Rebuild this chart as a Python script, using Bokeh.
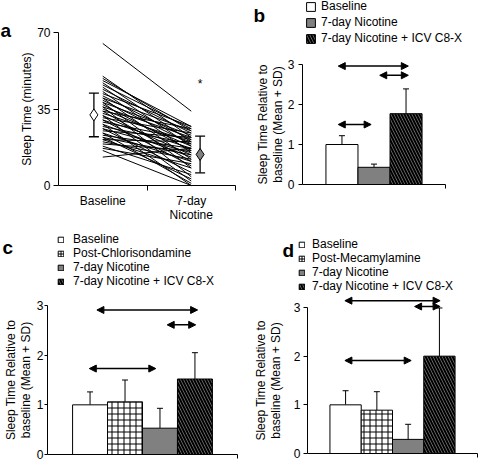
from bokeh.plotting import figure
from bokeh.layouts import row, column
from bokeh.models import (ColumnDataSource, FixedTicker, Legend, LegendItem, Label,
                          Arrow, NormalHead, Range1d, Whisker, TeeHead)
from bokeh.core.properties import value
from bokeh.embed import file_html
from bokeh.resources import INLINE

FONT = "Liberation Sans"

# ---------------- data ----------------
# panel a: individual animals, sleep time (minutes)
a_categories = ["Baseline", "7-day\nNicotine"]
a_baseline = [65, 50, 49, 48, 47, 46, 45, 44, 43, 42, 41, 40, 40, 39, 38, 38, 37, 36, 36, 35,
              34, 34, 33, 32, 32, 31, 30, 30, 29, 28, 28, 27, 26, 26, 25, 24, 24, 23, 22, 22,
              21, 21, 20, 19, 18, 17, 16, 13]
a_nicotine = [34, 22, 25, 27, 20, 26, 18, 24, 15, 27, 21, 12, 25, 19, 8, 23, 16, 22, 4, 18,
              26, 11, 20, 14, 2, 24, 17, 9, 21, 13, 0, 19, 6, 15, 22, 11, 1, 17, 14, 3,
              20, 8, 12, 16, 5, 10, 0, 17]
a_mean = [32.3, 14.2]
a_sd = [10.0, 8.4]
a_yticks = [0, 35, 70]

# panel b
b_groups = ["Baseline", "7-day Nicotine", "7-day Nicotine + ICV C8-X"]
b_mean = [1.0, 0.43, 1.77]
b_sd = [0.22, 0.08, 0.62]
b_arrow_x0 = [0.75, 1.04, 0.75]
b_arrow_x1 = [1.24, 1.24, 0.98]
b_arrow_y = [2.96, 2.73, 1.50]

# panel c
c_groups = ["Baseline", "Post-Chlorisondamine", "7-day Nicotine", "7-day Nicotine + ICV C8-X"]
c_mean = [1.0, 1.06, 0.53, 1.52]
c_sd = [0.26, 0.44, 0.40, 0.53]
c_arrow_x0 = [0.76, 1.13, 0.72]
c_arrow_x1 = [1.29, 1.28, 1.07]
c_arrow_y = [2.91, 2.61, 1.73]

# panel d
d_groups = ["Baseline", "Post-Mecamylamine", "7-day Nicotine", "7-day Nicotine + ICV C8-X"]
d_mean = [1.0, 0.89, 0.29, 2.0]
d_sd = [0.29, 0.38, 0.31, 0.99]
d_arrow_x0 = [0.72, 1.13, 0.72]
d_arrow_x1 = [1.28, 1.28, 1.11]
d_arrow_y = [3.14, 3.02, 1.91]

bar_yticks = [0, 1, 2, 3]
YLABEL = "Sleep Time Relative to\nbaseline (Mean + SD)"

GRAY = "#808080"
STYLE = {
    "Baseline": ("white", " ", 1),
    "Post-Chlorisondamine": ("white", "+", 1),
    "Post-Mecamylamine": ("white", "+", 1),
    "7-day Nicotine": (GRAY, " ", 1),
    "7-day Nicotine + ICV C8-X": (GRAY, "\\", 2.0),
}


def make_fig(W, H, ax_px, ax_py, top_py, xb, yb):
    """Whole figure is the frame; axes are drawn at fixed data locations."""
    (x0, x1, x1_px) = xb
    sx = (x1_px - ax_px) / (x1 - x0)
    (y0, y1) = yb
    sy = (ax_py - top_py) / (y1 - y0)
    xr = Range1d(x0 - ax_px / sx, x0 + (W - ax_px) / sx)
    yr = Range1d(y0 - (H - ax_py) / sy, y0 + ax_py / sy)
    p = figure(width=W, height=H, x_range=xr, y_range=yr, output_backend="svg",
               toolbar_location=None, min_border=0,
               min_border_left=0, min_border_right=0, min_border_top=0, min_border_bottom=0)
    p.outline_line_color = None
    p.grid.visible = False
    for ax in p.axis:
        ax.axis_line_color = "black"
        ax.major_tick_line_color = "black"
        ax.minor_tick_line_color = None
        ax.major_tick_in = 0
        ax.major_label_text_font = FONT
        ax.major_label_text_font_size = "12px"
        ax.major_label_text_color = "black"
    p.xaxis[0].fixed_location = y0
    p.xaxis[0].bounds = (x0, x1)
    p.yaxis[0].fixed_location = x0
    p.yaxis[0].bounds = (y0, y1)
    return p


def style_yaxis(p, ticks, label, tick_out, lab_standoff, standoff):
    ax = p.yaxis[0]
    ax.ticker = FixedTicker(ticks=ticks, minor_ticks=[])
    ax.major_tick_out = tick_out
    ax.major_label_standoff = lab_standoff
    ax.axis_label = label
    ax.axis_label_text_font = FONT
    ax.axis_label_text_font_size = "12px"
    ax.axis_label_text_font_style = "normal"
    ax.axis_label_text_color = "black"
    ax.axis_label_text_line_height = 1.05
    ax.axis_label_standoff = standoff


def style_bar_xaxis(p):
    ax = p.xaxis[0]
    ax.ticker = FixedTicker(ticks=[1.5], minor_ticks=[])
    ax.major_tick_out = 4
    ax.major_label_overrides = {1.5: ""}
    ax.major_label_standoff = 0


def panel_label(p, text, x, y):
    p.add_layout(Label(x=x, y=y, x_units="screen", y_units="screen", text=text,
                       text_font=FONT, text_font_size="19px", text_font_style="bold",
                       text_color="black", text_baseline="alphabetic"))


def bar_panel(p, groups, means, sds, ax0, ax1, ay, legend_xy, glyph, row_h, spacing,
              standoff, line_h, cap):
    n = len(groups)
    width = 0.224 if n == 3 else 0.184
    xs = [1.0 + (i - (n - 1) / 2) * width for i in range(n)]
    src = ColumnDataSource(dict(
        x=xs, top=means, upper=[m + s for m, s in zip(means, sds)],
        color=[STYLE[g][0] for g in groups],
        hatch=[STYLE[g][1] for g in groups],
        hw=[STYLE[g][2] for g in groups],
    ))
    p.add_layout(Whisker(source=src, base="x", lower="top", upper="upper", dimension="height",
                         lower_head=None,
                         upper_head=TeeHead(size=cap, line_color="black", line_width=1),
                         line_color="black", line_width=1, level="underlay"))
    bars = p.vbar(x="x", top="top", bottom=0, width=width, source=src,
                  fill_color="color", hatch_pattern="hatch", hatch_color="black",
                  hatch_scale=6, hatch_weight="hw", line_color="black", line_width=1)
    asrc = ColumnDataSource(dict(x0=ax0, x1=ax1, y=ay))
    p.add_layout(Arrow(source=asrc, x_start="x0", y_start="y", x_end="x1", y_end="y",
                       line_color="black", line_width=1.5,
                       start=NormalHead(size=7, fill_color="black", line_color="black"),
                       end=NormalHead(size=7, fill_color="black", line_color="black")))
    items = [LegendItem(label=g, renderers=[bars], index=i) for i, g in enumerate(groups)]
    leg = Legend(items=items, location=legend_xy, orientation="vertical",
                 glyph_width=glyph, glyph_height=glyph, label_height=row_h,
                 label_text_font=FONT, label_text_font_size="12px", label_text_color="black",
                 label_text_line_height=line_h,
                 label_standoff=standoff, spacing=spacing, padding=0, margin=0,
                 border_line_color=None, background_fill_alpha=0)
    p.add_layout(leg)


# ---------------- panel a ----------------
pa = make_fig(240, 224, 58, 185, 32, (0.5, 2.5, 235), (0, 70))
style_yaxis(pa, a_yticks, "Sleep Time (minutes)", 5, 3, 0)
xa = pa.xaxis[0]
xa.ticker = FixedTicker(ticks=[1, 2], minor_ticks=[1.5, 2.5])
xa.major_label_overrides = {1: a_categories[0], 2: a_categories[1]}
xa.major_tick_line_color = None
xa.major_tick_out = 0
xa.minor_tick_in = 0
xa.minor_tick_out = 5
xa.minor_tick_line_color = "black"
xa.major_label_standoff = 3
xa.major_label_text_line_height = 1.0

cat_pos = [1, 2]
pa.multi_line(xs=[cat_pos for _ in a_baseline],
              ys=[[b, n] for b, n in zip(a_baseline, a_nicotine)],
              line_color="black", line_width=1)
mean_x = [cat_pos[0] - 0.1, cat_pos[1] + 0.1]
msrc = ColumnDataSource(dict(x=mean_x, y=a_mean,
                             lo=[m - s for m, s in zip(a_mean, a_sd)],
                             hi=[m + s for m, s in zip(a_mean, a_sd)],
                             fc=["white", GRAY]))
pa.add_layout(Whisker(source=msrc, base="x", lower="lo", upper="hi", dimension="height",
                      lower_head=TeeHead(size=10, line_color="black", line_width=1.3),
                      upper_head=TeeHead(size=10, line_color="black", line_width=1.3),
                      line_color="black", line_width=1.3))
pa.scatter(x="x", y="y", source=msrc, marker="diamond", size=12,
           fill_color="fc", line_color="black", line_width=1)
pa.text(x=[mean_x[1]], y=[46.5], text=["*"], text_font=value(FONT), text_font_size="12px",
        text_align="center", text_baseline="middle", text_color="black")
panel_label(pa, "a", 0, 194)

# ---------------- panel b ----------------
pb = make_fig(244, 224, 62, 184, 64, (0.5, 1.5, 205), (0, 3))
style_yaxis(pb, bar_yticks, YLABEL, 4, 4, 0)
style_bar_xaxis(pb)
bar_panel(pb, b_groups, b_mean, b_sd, b_arrow_x0, b_arrow_x1, b_arrow_y,
          (65, 179), 11, 13, 2, 5, 1.2, 6)
panel_label(pb, "b", 13, 209)

# ---------------- panel c ----------------
pc = make_fig(240, 238, 47, 230, 81, (0.5, 1.5, 237), (0, 3))
style_yaxis(pc, bar_yticks, YLABEL, 3, 1, 1)
style_bar_xaxis(pc)
bar_panel(pc, c_groups, c_mean, c_sd, c_arrow_x0, c_arrow_x1, c_arrow_y,
          (57, 174), 7, 12, -1, 9, 1.0, 6)
panel_label(pc, "c", 2, 215)

# ---------------- panel d ----------------
pd_ = make_fig(244, 238, 67, 229, 83, (0.5, 1.5, 237), (0, 3))
style_yaxis(pd_, bar_yticks, YLABEL, 4, 3, 8)
style_bar_xaxis(pd_)
bar_panel(pd_, d_groups, d_mean, d_sd, d_arrow_x0, d_arrow_x1, d_arrow_y,
          (58, 169), 7, 12, -1, 7, 1.0, 6)
panel_label(pd_, "d", 42, 212)

layout = column(row(pa, pb), row(pc, pd_))
open("out.html", "w").write(file_html(layout, INLINE))
